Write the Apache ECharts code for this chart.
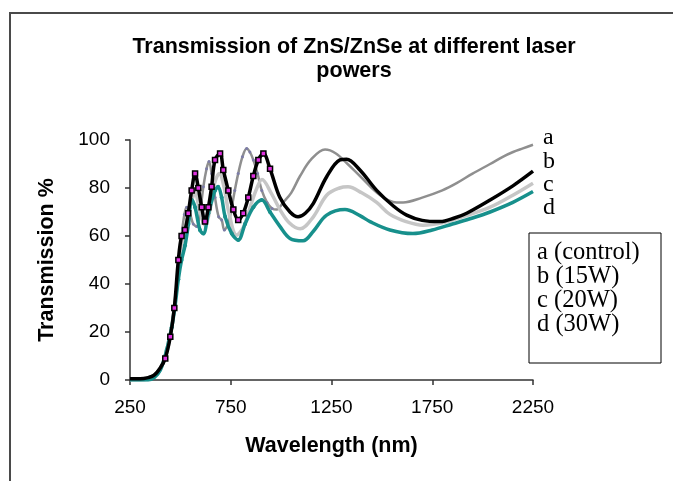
<!DOCTYPE html>
<html>
<head>
<meta charset="utf-8">
<script src="https://cdn.jsdelivr.net/npm/echarts@6/dist/echarts.min.js"></script>
<style>
  html, body { margin: 0; padding: 0; background: #fff; }
  #chart { width: 673px; height: 481px; }
</style>
</head>
<body>
<div id="chart"></div>
<script>
// Transmission spectra (%), wavelength in nm
const aWl = [250,300,340,380,410,440,460,480,495,510,520,531,545,564,581,598,614,630,642,655,672,690,705,718,737,755,770,787,808,829,845,862,883,904,930,955,978,1010,1050,1094,1150,1218,1270,1330,1391,1491,1573,1605,1700,1800,1871,1950,2037,2100,2151,2200,2250];
const aT  = [0,0,1,3,7,16,25,38,50,63,69,72,70,65,64,70,80.5,88,91,86,76,68,66.7,62.5,65,72,79,86,93,96.5,95,91.7,86,79,74,71.5,71,74,78,85,92,96,94.5,90,85,77,74,74,76,79,82,86,90,93,95,96.5,98];

const bWl = [250,300,340,370,400,425,450,470,490,506,523,539,556,573,589,606,622,639,655,672,697,713,738,763,787,812,837,862,887,912,945,994,1044,1084,1120,1160,1226,1292,1325,1391,1474,1557,1623,1700,1789,1860,1921,2037,2152,2250];
const bT  = [0.5,0.5,1,2,5,9,18,30,50,60,62.5,69.5,79,86,80,72,66,72,80.5,91.7,94.4,87.5,79,71,66.7,69.5,76,85,91.7,94.4,88,76,70,68,69.5,73.6,84.7,91.7,92,87.5,79,72.5,68.7,66.5,66,67.5,69.5,75,81,87];

const cWl = [250,300,340,380,410,440,460,480,495,510,530,550,573,595,622,650,670,693,715,740,779,815,850,880,905,950,994,1040,1094,1160,1226,1290,1332,1400,1474,1540,1620,1704,1800,1900,2037,2150,2250];
const cT  = [0,0,0.5,2,6,14,24,37,48,58,66,73,78,71,64.6,72,82,86,81,70,60.4,64,73,80,83.5,78,71,65.5,63,68,77,80,80.5,78,74,69,66,64.5,65.5,68,72,77,82];

const dWl = [250,300,340,370,400,432,457,473,490,506,523,540,556,573,597,614,639,672,687,705,722,755,787,821,862,904,945,994,1044,1109,1160,1226,1317,1391,1441,1540,1654,1750,1850,1950,2037,2150,2250];
const dT  = [0,0,0,1,4,12.5,22,30.5,42,50,56,65,75,72,62.5,61,69.5,79,80.5,76,68,61,58.3,65,72,75,70,64,59,58,62,68.7,71,68.5,66,62.5,61,62.5,65,67.5,70,74,78.5];

const seriesTags = ['a', 'b', 'c', 'd'];
const legendLabels = ['a (control)', 'b (15W)', 'c (20W)', 'd (30W)'];
const xTicks = [250, 750, 1250, 1750, 2250];
const yTicks = [0, 20, 40, 60, 80, 100];

// measured points between these wavelengths carry markers
const markLo = 420, markHi = 960;

function buildData(wl, t, symbol, size) {
  return wl.map((w, i) => {
    const item = { value: [w, t[i]] };
    if (w >= markLo && w <= markHi) {
      item.symbol = symbol;
      item.symbolSize = size;
    } else {
      item.symbol = 'none';
    }
    return item;
  });
}

const chart = echarts.init(document.getElementById('chart'), null, { renderer: 'canvas' });

const gridL = 130, gridR = 533, gridT = 140, gridB = 380;
const axisFont = '"Liberation Sans", Arial, sans-serif';
const serifFont = '"Liberation Serif", "Times New Roman", serif';

const graphics = [
  { type: 'rect', shape: { x: 10, y: 13, width: 720, height: 520 },
    style: { fill: 'none', stroke: '#4a4a4a', lineWidth: 2 }, silent: true },
  { type: 'text', x: 354, y: 47,
    style: { text: 'Transmission of ZnS/ZnSe at different laser', font: 'bold 21.5px ' + axisFont,
             fill: '#000', textAlign: 'center', textVerticalAlign: 'middle' } },
  { type: 'text', x: 354, y: 71,
    style: { text: 'powers', font: 'bold 21.5px ' + axisFont,
             fill: '#000', textAlign: 'center', textVerticalAlign: 'middle' } },
  { type: 'rect', shape: { x: 529, y: 233, width: 132, height: 130 },
    style: { fill: '#fff', stroke: '#000', lineWidth: 1 }, silent: true }
];

const tagY = [138, 162, 185, 208];
seriesTags.forEach((tag, i) => {
  graphics.push({ type: 'text', x: 543, y: tagY[i],
    style: { text: tag, font: '24px ' + serifFont, fill: '#000', textVerticalAlign: 'middle' } });
});
legendLabels.forEach((lab, i) => {
  graphics.push({ type: 'text', x: 537, y: 253 + i * 23.8,
    style: { text: lab, font: '24.5px ' + serifFont, fill: '#000', textVerticalAlign: 'middle' } });
});

chart.setOption({
  animation: false,
  backgroundColor: '#fff',
  grid: { left: gridL, right: 673 - gridR, top: gridT, bottom: 481 - gridB, containLabel: false },
  xAxis: {
    type: 'value', min: 250, max: 2250, interval: 500,
    name: 'Wavelength (nm)', nameLocation: 'middle', nameGap: 55,
    nameTextStyle: { fontFamily: axisFont, fontWeight: 'bold', fontSize: 21.5, color: '#000' },
    axisLine: { show: true, lineStyle: { color: '#333', width: 1.5 } },
    axisTick: { show: true, inside: false, length: 5, lineStyle: { color: '#333', width: 1.5 } },
    axisLabel: { fontFamily: axisFont, fontSize: 19, color: '#000', margin: 18,
                 formatter: v => (xTicks.indexOf(v) >= 0 ? String(v) : '') },
    splitLine: { show: false }
  },
  yAxis: {
    type: 'value', min: 0, max: 100, interval: 20,
    name: 'Transmission %', nameLocation: 'middle', nameGap: 72, nameRotate: 90,
    nameTextStyle: { fontFamily: axisFont, fontWeight: 'bold', fontSize: 21.5, color: '#000' },
    axisLine: { show: true, lineStyle: { color: '#333', width: 1.5 } },
    axisTick: { show: true, inside: false, length: 5, lineStyle: { color: '#333', width: 1.5 } },
    axisLabel: { fontFamily: axisFont, fontSize: 19, color: '#000', margin: 20,
                 formatter: v => (yTicks.indexOf(v) >= 0 ? String(v) : '') },
    splitLine: { show: false }
  },
  series: [
    { name: legendLabels[0], type: 'line', smooth: 0.35, showSymbol: true,
      data: buildData(aWl, aT, 'circle', 3),
      lineStyle: { color: '#8f8f8f', width: 2.5 },
      itemStyle: { color: '#7c7ca8' }, z: 2 },
    { name: legendLabels[2], type: 'line', smooth: 0.35, symbol: 'none',
      data: cWl.map((w, i) => [w, cT[i]]),
      lineStyle: { color: '#c6c6c6', width: 3.5 }, z: 3 },
    { name: legendLabels[3], type: 'line', smooth: 0.35, showSymbol: true,
      data: buildData(dWl, dT, 'circle', 4),
      lineStyle: { color: '#17908c', width: 3.5 },
      itemStyle: { color: '#17908c' }, z: 4 },
    { name: legendLabels[1], type: 'line', smooth: 0.35, showSymbol: true,
      data: buildData(bWl, bT, 'rect', 5),
      lineStyle: { color: '#000', width: 3.5 },
      itemStyle: { color: '#e030e0', borderColor: '#000', borderWidth: 1.5 }, z: 5 }
  ],
  graphic: graphics
});
</script>
</body>
</html>
